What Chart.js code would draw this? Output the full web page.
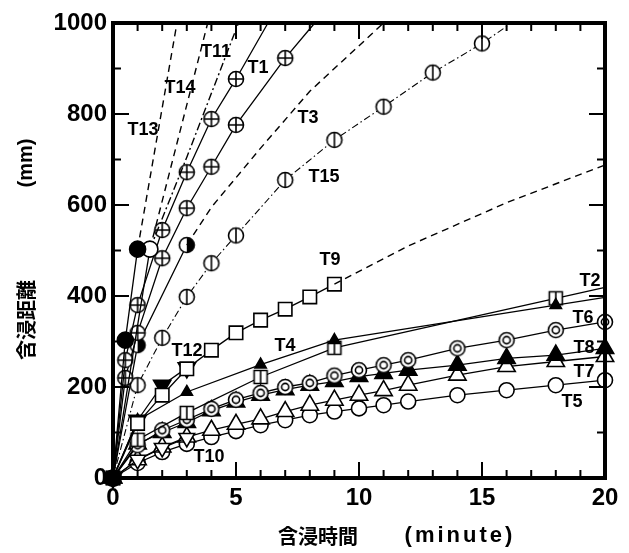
<!DOCTYPE html>
<html><head><meta charset="utf-8">
<script src="https://cdn.jsdelivr.net/npm/chart.js@4/dist/chart.umd.min.js"></script>
<style>html,body{margin:0;padding:0;background:#fff}canvas{display:block}</style>
</head><body>
<canvas id="c" width="629" height="553"></canvas>
<script>
// ---------- data (minutes -> mm) ----------
const minutes = [0,1,2,3,4,5,6,7,8,9,10,11,12,14,16,18,20];
const T6_mm = [0,72,105,128,152,172,187,200,209,225,237,248,259,285,303,325,343];
const T8_mm = [0,75,100,122,148,167,182,194,204,212,223,230,237,248,263,270,285];
const T7_mm = [0,40,68,90,105,118,130,146,160,171,182,192,204,226,245,256,267];
const T5_mm = [0,33,57,75,90,103,116,127,138,146,153,160,168,182,193,204,215];

const T1_min = [0,0.5,1,2,3,4,5,6.3];
const T1_mm  = [0,259,380,545,672,789,877,1000];
const T1b_min = [0,0.5,1,2,3,4,5,7,8.2];
const T1b_mm  = [0,220,319,483,593,684,776,923,1000];
const T11_min = [1.5,3,5.1];
const T11_mm  = [503,705,1000];
const T13_min = [0,0.5,1];
const T13_mm  = [0,303,503];
const T13x_min = [1,2.6];
const T13x_mm  = [503,1000];
const T14_min = [0,1.5];
const T14_mm  = [0,503];
const T14x_min = [1.5,3.85];
const T14x_mm  = [503,1000];
const T3_min = [0,1,3];
const T3_mm  = [0,292,512];
const T3x_min = [3,4,6,8,11];
const T3x_mm  = [512,595,725,850,1000];
const T15_min = [0,1,2,3,4,5,7,9,11,13,15,16.2];
const T15_mm  = [0,204,308,398,472,533,655,743,816,891,955,1000];
const T9_min = [0,1,2,3,4,5,6,7,8,9];
const T9_mm  = [0,120,182,240,281,319,347,371,398,426];
const T9x_min = [9,12,16,20];
const T9x_mm  = [426,510,605,688];
const T12_min = [0,1,2,3];
const T12_mm  = [0,127,204,242];
const T4_min = [0,1,3,6,9,18,20];
const T4_mm  = [0,127,189,249,303,380,397];
const T2_min = [0,1,3,6,9,18,20];
const T2_mm  = [0,84,143,222,286,395,419];
const T10_min = [0,1,2,3];
const T10_mm  = [0,40,66,88];

const xTicks = [0,5,10,15,20];
const yTicks = [0,200,400,600,800,1000];

// series name labels (anchored in data units)
const labelNames = ['T11','T1','T14','T13','T3','T15','T9','T12','T4','T2','T6','T8','T7','T5','T10'];
const labelMin   = [4.19,5.89,2.72,1.22,7.93,8.58,8.82,3.01,6.99,19.39,19.11,19.15,19.15,18.66,3.9];
const labelMm    = [936,901,857,765,791,662,479,279,290,433,352,286,233,167,46];

// ---------- marker glyphs ----------
function mk(size, draw){const c=document.createElement('canvas');c.width=size;c.height=size;const g=c.getContext('2d');g.lineWidth=1.6;g.strokeStyle='#000';g.fillStyle='#fff';draw(g,size/2);return c;}
const R=7.5;
function ring(g,c,r){g.beginPath();g.arc(c,c,r,0,2*Math.PI);}
const mkCirclePlus = mk(20,(g,c)=>{ring(g,c,R);g.fill();g.stroke();g.beginPath();g.moveTo(c-R,c);g.lineTo(c+R,c);g.moveTo(c,c-R);g.lineTo(c,c+R);g.stroke();});
const mkCircleBar  = mk(20,(g,c)=>{ring(g,c,R);g.fill();g.stroke();g.beginPath();g.moveTo(c,c-R);g.lineTo(c,c+R);g.stroke();});
const mkHalf = mk(20,(g,c)=>{ring(g,c,R);g.fill();g.beginPath();g.arc(c,c,R,-Math.PI/2,Math.PI/2);g.closePath();g.fillStyle='#000';g.fill();ring(g,c,R);g.stroke();});
const mkDouble = mk(20,(g,c)=>{ring(g,c,R);g.fill();g.stroke();ring(g,c,3.6);g.stroke();});
const mkSquareBar = mk(18,(g,c)=>{const h=6.5;g.beginPath();g.rect(c-h,c-h,2*h,2*h);g.fill();g.stroke();g.beginPath();g.moveTo(c,c-h);g.lineTo(c,c+h);g.stroke();});

const pts=(xs,ys)=>xs.map((x,i)=>({x:x,y:ys[i]}));
const radii=(n,r,hideLast)=>Array.from({length:n},(_,i)=>(hideLast&&i===n-1)?0:r);

function series(xs,ys,o){
  return Object.assign({data:pts(xs,ys),showLine:true,borderColor:'#000',borderWidth:1.3,
    pointBorderColor:'#000',pointBorderWidth:1.6,pointBackgroundColor:'#fff',pointRadius:8,pointHoverRadius:8,tension:0,clip:false},o);
}
const dash=[7,5], dashDot=[7,3,1.5,3];

const datasets=[
  series(minutes,T5_mm,{label:'T5',pointStyle:'circle',pointRadius:7.5}),
  series(minutes,T7_mm,{label:'T7',pointStyle:'triangle',pointRadius:10}),
  series(minutes,T8_mm,{label:'T8',pointStyle:'triangle',pointRadius:10,pointBackgroundColor:'#000'}),
  series(minutes,T6_mm,{label:'T6',pointStyle:mkDouble}),
  series(T2_min,T2_mm,{label:'T2',pointStyle:mkSquareBar,pointRadius:radii(T2_min.length,8,true)}),
  series(T4_min,T4_mm,{label:'T4',pointStyle:'triangle',pointBackgroundColor:'#000',pointRadius:radii(T4_min.length,6.5,true)}),
  series(T10_min,T10_mm,{label:'T10',pointStyle:'triangle',rotation:180,pointRadius:9}),
  series(T12_min,T12_mm,{label:'T12',pointStyle:'triangle',rotation:180,pointRadius:10,pointBackgroundColor:'#000'}),
  series(T9_min,T9_mm,{label:'T9',pointStyle:'rect',pointRadius:9.5}),
  series(T9x_min,T9x_mm,{label:'T9 ext',pointRadius:0,borderDash:dash,borderWidth:1.4}),
  series(T15_min,T15_mm,{label:'T15',pointStyle:mkCircleBar,pointRadius:radii(T15_min.length,8,true),borderDash:dashDot,borderWidth:1.1}),
  series(T3_min,T3_mm,{label:'T3',pointStyle:mkHalf}),
  series(T3x_min,T3x_mm,{label:'T3 ext',pointRadius:0,borderDash:dash,borderWidth:1.4}),
  series(T1b_min,T1b_mm,{label:'T1b',pointStyle:mkCirclePlus,pointRadius:radii(T1b_min.length,8,true)}),
  series(T1_min,T1_mm,{label:'T1',pointStyle:mkCirclePlus,pointRadius:radii(T1_min.length,8,true)}),
  series(T11_min,T11_mm,{label:'T11',pointRadius:0,borderDash:[8,3,2,3],borderWidth:1.4}),
  series(T14x_min,T14x_mm,{label:'T14 ext',pointRadius:0,borderDash:dash,borderWidth:1.4}),
  series(T14_min,T14_mm,{label:'T14',pointStyle:'circle',pointRadius:8}),
  series(T13x_min,T13x_mm,{label:'T13 ext',pointRadius:0,borderDash:dash,borderWidth:1.4}),
  series(T13_min,T13_mm,{label:'T13',pointStyle:'circle',pointRadius:8,pointBackgroundColor:'#000'})
].reverse();

const NUMFONT={family:"'Liberation Sans', Arial, sans-serif",weight:'bold',size:24};

const framePlugin={
  id:'frame',
  afterDatasetsDraw(chart){
    const {ctx,chartArea:a,scales:{x,y}}=chart;
    ctx.save();
    ctx.strokeStyle='#000';
    ctx.lineWidth=2;
    ctx.beginPath();
    for(let t=0;t<=20;t++){
      const px=x.getPixelForValue(t), L=(t%5===0)?16:8;
      ctx.moveTo(px,a.bottom);ctx.lineTo(px,a.bottom-L);
      ctx.moveTo(px,a.top);ctx.lineTo(px,a.top+L);
    }
    for(let v=0;v<=1000;v+=100){
      const py=y.getPixelForValue(v), L=(v%200===0)?16:8;
      ctx.moveTo(a.left,py);ctx.lineTo(a.left+L,py);
      ctx.moveTo(a.right,py);ctx.lineTo(a.right-L,py);
    }
    ctx.stroke();
    ctx.lineWidth=4;
    ctx.strokeRect(a.left,a.top,a.right-a.left,a.bottom-a.top);
    // series labels
    ctx.fillStyle='#000';
    ctx.font="bold 18px 'Liberation Sans', Arial, sans-serif";
    ctx.textAlign='center';ctx.textBaseline='middle';
    labelNames.forEach((n,i)=>{ctx.fillText(n,x.getPixelForValue(labelMin[i]),y.getPixelForValue(labelMm[i]));});
    ctx.restore();
  },
  afterDraw(chart){
    const ctx=chart.ctx;
    ctx.save();
    ctx.fillStyle='#000';ctx.textBaseline='middle';ctx.textAlign='center';
    ctx.font="bold 20px 'Noto Sans CJK JP', sans-serif";
    ctx.fillText('含浸時間',318,536);
    ctx.font="bold 22px 'Liberation Sans', Arial, sans-serif";
    ctx.letterSpacing='3px';
    ctx.fillText('(minute)',460,536);
    ctx.letterSpacing='0px';
    ctx.translate(26,0);ctx.rotate(-Math.PI/2);
    ctx.font="bold 20px 'Noto Sans CJK JP', sans-serif";
    ctx.fillText('含浸距離',-320,0);
    ctx.font="bold 20px 'Liberation Sans', Arial, sans-serif";
    ctx.fillText('(mm)',-163,0);
    ctx.restore();
  }
};

new Chart(document.getElementById('c'),{
  type:'scatter',
  data:{datasets},
  options:{
    responsive:false,animation:false,devicePixelRatio:1,
    layout:{padding:{left:0,right:24,top:23,bottom:0}},
    plugins:{legend:{display:false},tooltip:{enabled:false}},
    events:[],
    scales:{
      x:{type:'linear',min:0,max:20,
        afterBuildTicks(s){s.ticks=xTicks.map(v=>({value:v}));},
        ticks:{font:NUMFONT,color:'#000',padding:6,maxRotation:0,callback:v=>String(v)},
        grid:{display:false,drawTicks:false},border:{display:false},
        afterFit(s){s.height=75;}},
      y:{type:'linear',min:0,max:1000,
        afterBuildTicks(s){s.ticks=yTicks.map(v=>({value:v}));},
        ticks:{font:NUMFONT,color:'#000',padding:6,callback:v=>String(v)},
        grid:{display:false,drawTicks:false},border:{display:false},
        afterFit(s){s.width=113;}}
    }
  },
  plugins:[framePlugin]
});
</script>
</body></html>
